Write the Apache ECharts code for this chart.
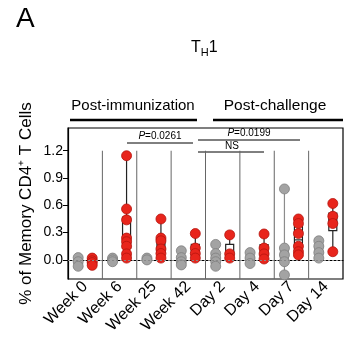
<!DOCTYPE html>
<html><head><meta charset="utf-8">
<script src="https://cdn.jsdelivr.net/npm/echarts@6/dist/echarts.min.js"></script>
<style>html,body{margin:0;padding:0;background:#fff}#c{width:358px;height:338px}</style>
</head><body><div id="c"></div>
<script>
var categories = ['Week 0','Week 6','Week 25','Week 42','Day 2','Day 4','Day 7','Day 14'];
var yTicks = [0, 0.3, 0.6, 0.9, 1.2];
var greyVals = [
  [0.025,-0.02,-0.07],
  [0.02,0.0,-0.02],
  [0.02,0.0],
  [0.1,0.025,-0.02,-0.055],
  [0.17,0.07,0.02,-0.02,-0.07],
  [0.08,0.02,-0.04],
  [0.78,0.13,0.055,-0.02,-0.165],
  [0.21,0.15,0.08,0.02]
];
var redVals = [
  [0.02,-0.01,-0.03,-0.06],
  [1.145,0.56,0.44,0.24,0.2,0.15,0.066,0.02],
  [0.45,0.24,0.21,0.12,0.07,0.02],
  [0.29,0.13,0.07,0.02],
  [0.275,0.066,0.02],
  [0.285,0.13,0.066,0.01],
  [0.45,0.4,0.29,0.15,0.09,0.055],
  [0.62,0.48,0.4,0.09]
];
var yMin = -0.21, yMax = 1.45;

function quant(s, p){ var pos=(s.length-1)*p, lo=Math.floor(pos), hi=Math.ceil(pos); return s[lo]+(s[hi]-s[lo])*(pos-lo); }
function boxData(vals){
  return vals.map(function(v,i){
    var s=v.slice().sort(function(a,b){return a-b;});
    return [i, s[0], quant(s,0.25), quant(s,0.5), quant(s,0.75), s[s.length-1]];
  });
}
function pts(vals){ var out=[]; vals.forEach(function(v,i){ v.forEach(function(y){ out.push([i,y]); }); }); return out; }

function boxRender(offset, color){
  return function(params, api){
    var x = api.coord([api.value(0), 0])[0] + offset;
    var yMn = api.coord([0, api.value(1)])[1];
    var yQ1 = api.coord([0, api.value(2)])[1];
    var yMd = api.coord([0, api.value(3)])[1];
    var yQ3 = api.coord([0, api.value(4)])[1];
    var yMx = api.coord([0, api.value(5)])[1];
    var w = 8;
    return {type:'group', children:[
      {type:'line', shape:{x1:x,y1:yMx,x2:x,y2:yMn}, style:{stroke:color,lineWidth:1.2}},
      {type:'rect', shape:{x:x-w/2,y:yQ3,width:w,height:yQ1-yQ3}, style:{fill:'#fff',stroke:color,lineWidth:1.2}},
      {type:'line', shape:{x1:x-w/2,y1:yMd,x2:x+w/2,y2:yMd}, style:{stroke:color,lineWidth:1.2}}
    ]};
  };
}

var chart = echarts.init(document.getElementById('c'), null, {renderer:'canvas'});
var font = 'Liberation Sans, Arial, sans-serif';
var option = {
  animation:false,
  textStyle:{fontFamily:font},
  grid:{left:68, right:15, top:128, bottom:59, show:true, borderColor:'#000', borderWidth:1.2},
  xAxis:{type:'category', data:categories, boundaryGap:true,
    axisLine:{lineStyle:{color:'#000', width:1.2}},
    axisTick:{alignWithLabel:true, length:5, lineStyle:{color:'#000'}},
    axisLabel:{rotate:45, fontSize:16, color:'#000', margin:5, fontFamily:font},
    splitLine:{show:false}},
  yAxis:{type:'value', min:yMin, max:yMax,
    name:'% of Memory CD4\u207A T Cells', nameLocation:'middle', nameGap:33, nameMoveOverlap:false,
    nameTextStyle:{fontSize:17, color:'#000', fontFamily:font},
    axisLine:{show:true, lineStyle:{color:'#000', width:1.2}},
    axisTick:{show:true, length:5, customValues:yTicks, lineStyle:{color:'#000'}},
    axisLabel:{fontSize:14, color:'#000', margin:5, customValues:yTicks, formatter:function(v){return v.toFixed(1);}, fontFamily:font},
    splitLine:{show:false}},
  series:[
    {type:'custom', data:categories.map(function(c,i){return [i];}).slice(1), z:1, silent:true,
      renderItem:function(params, api){
        var idx = api.value(0);
        var bw = api.size([1,0])[0];
        var x = api.coord([idx,0])[0] - bw/2;
        return {type:'line', shape:{x1:x,y1:api.coord([idx,1.2])[1],x2:x,y2:api.coord([idx,yMin])[1]}, style:{stroke:'#666',lineWidth:1}};
      },
      markLine:{silent:true, symbol:'none', label:{show:false}, lineStyle:{color:'#888', type:[2,2], width:1}, data:[{yAxis:0}]}
    },
    {type:'custom', data:boxData(greyVals), renderItem:boxRender(-7,'#8c8c8c'), z:2, encode:{x:0,y:[1,5]}},
    {type:'custom', data:boxData(redVals), renderItem:boxRender(7,'#222'), z:2, encode:{x:0,y:[1,5]}},
    {type:'scatter', data:pts(greyVals), symbolSize:10, symbolOffset:[-7,0], z:3,
      itemStyle:{color:'#a3a3a3', borderColor:'#7f7f7f', borderWidth:0.8, opacity:1}},
    {type:'scatter', data:pts(redVals), symbolSize:10, symbolOffset:[7,0], z:3,
      itemStyle:{color:'#e8251c', borderColor:'#b5140e', borderWidth:0.8, opacity:1}}
  ],
  graphic:[
    {type:'text', left:16, top:5, style:{text:'A', fontSize:28, fill:'#000', fontFamily:font}},
    {type:'text', x:191, y:38, style:{text:'{a|T}{s|H}{a|1}', fill:'#000', fontFamily:font,
      rich:{a:{fontSize:16, fontFamily:font}, s:{fontSize:11, padding:[9,0,0,0], fontFamily:font}}}},
    {type:'text', x:133, y:106, style:{text:'Post-immunization', fontSize:15, fill:'#000', align:'center', verticalAlign:'middle', fontFamily:font}},
    {type:'line', shape:{x1:70,y1:120,x2:197,y2:120}, style:{stroke:'#000', lineWidth:2.5}},
    {type:'text', x:275, y:106, style:{text:'Post-challenge', fontSize:15.5, fill:'#000', align:'center', verticalAlign:'middle', fontFamily:font}},
    {type:'line', shape:{x1:213,y1:120,x2:343,y2:120}, style:{stroke:'#000', lineWidth:2.5}},
    {type:'text', x:160, y:136, style:{text:'{i|P}=0.0261', fontSize:10, fill:'#000', align:'center', verticalAlign:'middle', fontFamily:font, rich:{i:{fontStyle:'italic', fontSize:10, fontFamily:font}}}},
    {type:'line', shape:{x1:127,y1:143,x2:193,y2:143}, style:{stroke:'#000', lineWidth:1}},
    {type:'text', x:249, y:133, style:{text:'{i|P}=0.0199', fontSize:10, fill:'#000', align:'center', verticalAlign:'middle', fontFamily:font, rich:{i:{fontStyle:'italic', fontSize:10, fontFamily:font}}}},
    {type:'line', shape:{x1:198,y1:140,x2:300,y2:140}, style:{stroke:'#000', lineWidth:1}},
    {type:'text', x:232, y:146, style:{text:'NS', fontSize:10, fill:'#000', align:'center', verticalAlign:'middle', fontFamily:font}},
    {type:'line', shape:{x1:198,y1:152,x2:264,y2:152}, style:{stroke:'#000', lineWidth:1}}
  ]
};
chart.setOption(option);
</script></body></html>
